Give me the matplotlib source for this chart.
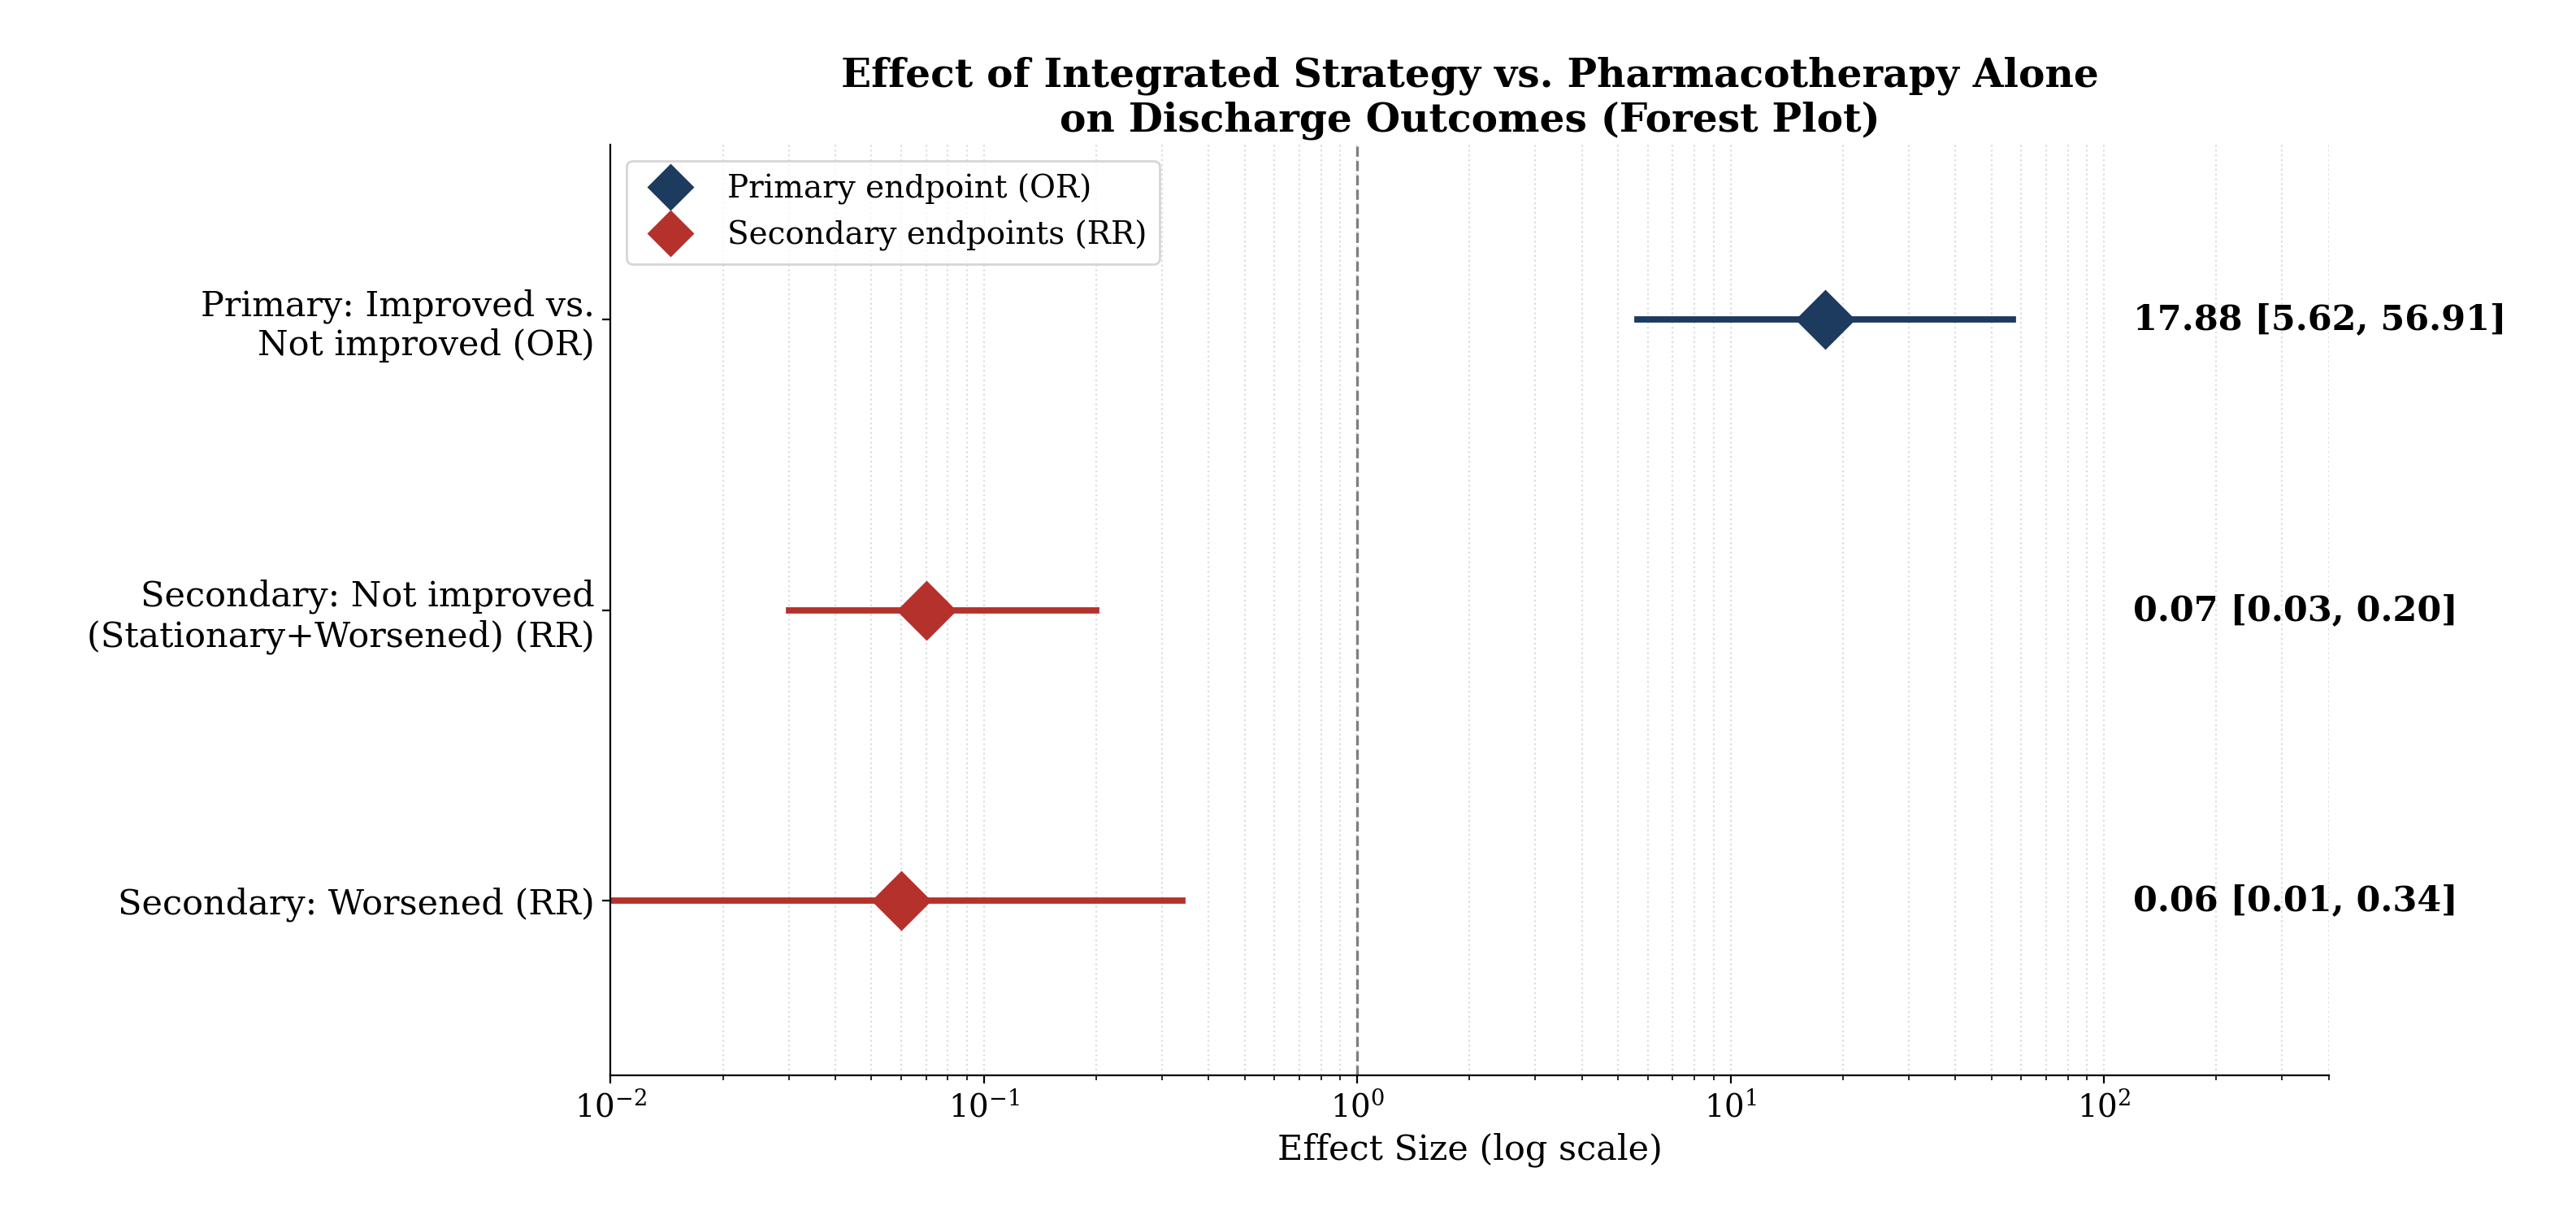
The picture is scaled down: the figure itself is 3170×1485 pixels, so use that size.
import numpy as np
import matplotlib.pyplot as plt

# Data
labels = ['Primary: Improved vs.\nNot improved (OR)',
          'Secondary: Not improved\n(Stationary+Worsened) (RR)',
          'Secondary: Worsened (RR)']
est = [17.88, 0.07, 0.06]
lower = [5.62, 0.03, 0.01]
upper = [56.91, 0.20, 0.34]
kinds = ['primary', 'secondary', 'secondary']

colors = {'primary': '#1d3a5f', 'secondary': '#b5312b'}
names = {'primary': 'Primary endpoint (OR)', 'secondary': 'Secondary endpoints (RR)'}

plt.rcParams['font.family'] = 'DejaVu Serif'
fig = plt.figure(figsize=(15.85, 7.425), dpi=200)
ax = fig.add_axes([0.237, 0.109, 0.667, 0.771])

seen = set()
for i in range(len(est)):
    c = colors[kinds[i]]
    ax.plot([lower[i], upper[i]], [i, i], color=c, lw=2.8, zorder=2)
    lab = names[kinds[i]] if kinds[i] not in seen else None
    seen.add(kinds[i])
    ax.plot(est[i], i, marker='D', color=c, markersize=18, ls='none', label=lab, zorder=3)
    ax.text(120, i, f'{est[i]:.2f} [{lower[i]:.2f}, {upper[i]:.2f}]', va='center', ha='left',
            fontsize=15.5, fontweight='bold', clip_on=False)

ax.axvline(1, color='gray', ls='--', lw=1.2, zorder=1)
ax.set_xscale('log')
ax.set_xlim(1e-2, 400)
ax.set_ylim(2.6, -0.6)
ax.set_yticks(range(len(labels)))
ax.set_yticklabels(labels, fontsize=15.5)
ax.tick_params(axis='x', labelsize=14)
ax.set_xlabel('Effect Size (log scale)', fontsize=15.5)
ax.grid(True, which='both', axis='x', ls=':', color='#dddddd', lw=0.8)
ax.set_axisbelow(True)
for s in ['top', 'right']:
    ax.spines[s].set_visible(False)
ax.legend(loc='upper left', fontsize=14, markerscale=0.75)
ax.set_title('Effect of Integrated Strategy vs. Pharmacotherapy Alone\non Discharge Outcomes (Forest Plot)',
             fontsize=17.5, fontweight='bold')

fig.savefig('out.png', dpi=200)
